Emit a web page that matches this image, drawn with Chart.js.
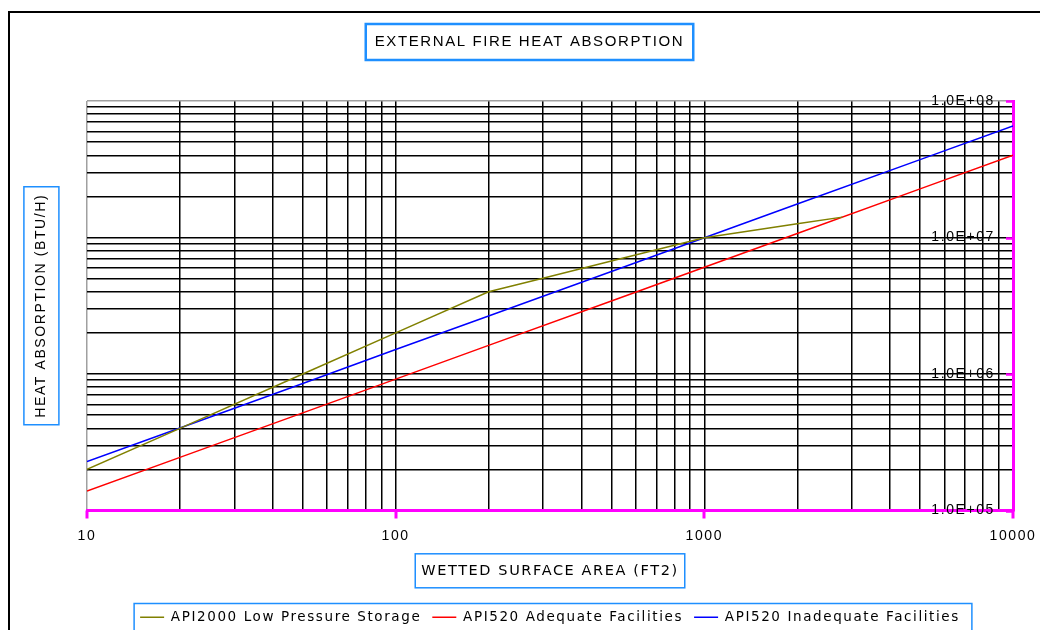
<!DOCTYPE html>
<html><head><meta charset="utf-8">
<script src="https://cdn.jsdelivr.net/npm/chart.js@4/dist/chart.umd.min.js"></script>
<style>
html,body{margin:0;padding:0;background:#fff;}
#wrap{position:relative;width:1040px;height:630px;overflow:hidden;background:#fff;}
#frame{position:absolute;left:7.5px;top:10.5px;width:1100px;height:700px;border-top:2.5px solid #000;border-left:2.5px solid #000;pointer-events:none;}
canvas{position:absolute;left:0;top:0;}
</style></head><body>
<div id="wrap"><canvas id="c" width="1040" height="630"></canvas><div id="frame"></div></div>
<script>
const chartTitle = 'EXTERNAL FIRE HEAT ABSORPTION';
const xAxisTitle = 'WETTED SURFACE AREA (FT2)';
const yAxisTitle = 'HEAT ABSORPTION (BTU/H)';
const seriesNames = ['API2000 Low Pressure Storage', 'API520 Adequate Facilities', 'API520 Inadequate Facilities'];
const seriesColors = ['#808000', '#ff0000', '#0000ff'];

const api2000Area = [10, 20, 50, 100, 200, 300, 500, 1000, 2000, 2800];
const api2000Heat = [2.0e5, 4.0e5, 1.0e6, 2.0e6, 4.0e6, 5.03e6, 6.72e6, 9.94e6, 1.26e7, 1.41e7];

const api520Area = [10, 20, 50, 100, 200, 500, 1000, 2000, 5000, 10000];
const api520AdequateHeat = [1.39e5, 2.45e5, 5.19e5, 9.17e5, 1.62e6, 3.43e6, 6.06e6, 1.07e7, 2.27e7, 4.0e7];
const api520InadequateHeat = [2.28e5, 4.02e5, 8.53e5, 1.51e6, 2.66e6, 5.64e6, 9.95e6, 1.76e7, 3.72e7, 6.57e7];

const xTickValues = [10, 20, 30, 40, 50, 60, 70, 80, 90, 100, 200, 300, 400, 500, 600, 700, 800, 900,
  1000, 2000, 3000, 4000, 5000, 6000, 7000, 8000, 9000, 10000];
const xMajorTicks = [10, 100, 1000, 10000];
const xMajorLabels = ['10', '100', '1000', '10000'];

const yTickValues = [1e5, 2e5, 3e5, 4e5, 5e5, 6e5, 7e5, 8e5, 9e5, 1e6, 2e6, 3e6, 4e6, 5e6, 6e6, 7e6, 8e6, 9e6,
  1e7, 2e7, 3e7, 4e7, 5e7, 6e7, 7e7, 8e7, 9e7, 1e8];
const yMajorTicks = [1e5, 1e6, 1e7, 1e8];
const yMajorLabels = ['1.0E+05', '1.0E+06', '1.0E+07', '1.0E+08'];

const SANS = '"Liberation Sans", Arial, sans-serif';
const VERD = '"DejaVu Sans", Verdana, sans-serif';
const SPACING = '1.6px';
const BLUE_FRAME = '#1e8fff';
const MAGENTA = '#ff00ff';

function pairs(xs, ys) { return xs.map((x, i) => ({x: x, y: ys[i]})); }

const spacingPlugin = {
  id: 'spacing',
  beforeInit(chart) { chart.ctx.letterSpacing = SPACING; },
  beforeUpdate(chart) { chart.ctx.letterSpacing = SPACING; },
  beforeDraw(chart) { chart.ctx.letterSpacing = SPACING; }
};

const framesPlugin = {
  id: 'frames',
  afterDraw(chart) {
    const ctx = chart.ctx;
    ctx.save();
    ctx.letterSpacing = SPACING;
    ctx.strokeStyle = BLUE_FRAME;
    // title frame
    const tb = chart.titleBlock;
    ctx.font = '15px ' + SANS;
    let tw = ctx.measureText(chartTitle).width;
    let cx = (tb.left + tb.right) / 2, cy = tb.top + 33 + 9;
    ctx.lineWidth = 2.5;
    ctx.strokeRect(cx - tw / 2 - 9, cy - 18, tw + 18, 36);
    ctx.lineWidth = 1.5;
    // y title frame
    const yt = chart.scales.yTitle;
    ctx.font = '14px ' + SANS;
    tw = ctx.measureText(yAxisTitle).width;
    cx = yt.left + 14 + 8.4; cy = (yt.top + yt.bottom) / 2;
    ctx.strokeRect(cx - 17.5, cy - tw / 2 - 7, 35, tw + 14);
    // x title frame
    const xs = chart.scales.x;
    ctx.font = '14.5px ' + VERD;
    tw = ctx.measureText(xAxisTitle).width;
    cx = (xs.left + xs.right) / 2; cy = xs.bottom - 20 - 8.7;
    ctx.strokeRect(cx - tw / 2 - 6, cy - 17, tw + 12, 34);
    // legend frame
    const lg = chart.legend;
    const hb = lg.legendHitBoxes;
    if (hb && hb.length) {
      const l = hb[0].left - 6;
      const r = hb[hb.length - 1].left + hb[hb.length - 1].width + 12;
      ctx.strokeRect(l, lg.top + 4, r - l, 60);
    }
    // magenta major tick marks
    ctx.strokeStyle = MAGENTA;
    ctx.lineWidth = 3;
    xMajorTicks.forEach(v => {
      const px = Math.round(xs.getPixelForValue(v));
      ctx.beginPath();
      ctx.moveTo(px, xs.top);
      ctx.lineTo(px, xs.top + 8);
      ctx.stroke();
    });
    const ys = chart.scales.y;
    ctx.lineWidth = 2.5;
    yMajorTicks.forEach(v => {
      const py = Math.round(ys.getPixelForValue(v)) + 0.5;
      ctx.beginPath();
      ctx.moveTo(ys.left - 7, py);
      ctx.lineTo(ys.left, py);
      ctx.stroke();
    });
    ctx.restore();
  }
};

Chart.defaults.color = '#000';

new Chart(document.getElementById('c'), {
  type: 'line',
  data: {
    datasets: [
      {label: seriesNames[0], data: pairs(api2000Area, api2000Heat), borderColor: seriesColors[0], backgroundColor: seriesColors[0], xAxisID: 'x', yAxisID: 'y'},
      {label: seriesNames[1], data: pairs(api520Area, api520AdequateHeat), borderColor: seriesColors[1], backgroundColor: seriesColors[1], xAxisID: 'x', yAxisID: 'y'},
      {label: seriesNames[2], data: pairs(api520Area, api520InadequateHeat), borderColor: seriesColors[2], backgroundColor: seriesColors[2], xAxisID: 'x', yAxisID: 'y'}
    ]
  },
  options: {
    responsive: false,
    animation: false,
    devicePixelRatio: 1,
    events: [],
    elements: {
      line: {borderWidth: 1.5, tension: 0},
      point: {radius: 0}
    },
    layout: {padding: {left: 19, right: 0, top: 0, bottom: -4}},
    plugins: {
      title: {
        display: true, text: chartTitle, color: '#000',
        font: {family: SANS, size: 15, weight: 'normal'},
        padding: {top: 33, bottom: 50}
      },
      legend: {
        display: true, position: 'bottom', fullSize: false,
        labels: {boxWidth: 24, boxHeight: 0, padding: 11, color: '#000', font: {family: VERD, size: 13.5}}
      },
      tooltip: {enabled: false}
    },
    scales: {
      x: {
        type: 'logarithmic', position: 'bottom', min: 10, max: 10000,
        afterBuildTicks: s => { s.ticks = xTickValues.map(v => ({value: v, major: xMajorTicks.includes(v)})); },
        afterFit: s => { s.height = 89; },
        ticks: {
          autoSkip: false, maxRotation: 0, minRotation: 0, padding: 0, color: '#000',
          font: {family: SANS, size: 14},
          callback: v => { const i = xMajorTicks.indexOf(v); return i >= 0 ? xMajorLabels[i] : ''; }
        },
        grid: {
          color: c => (c.tick && c.tick.value === 10) ? '#a0a0a0' : '#000',
          lineWidth: 1.5,
          tickColor: 'rgba(0,0,0,0)',
          tickWidth: 1, tickLength: 17
        },
        border: {display: true, color: MAGENTA, width: 3},
        title: {
          display: true, text: xAxisTitle, color: '#000',
          font: {family: VERD, size: 14.5}, padding: {top: 0, bottom: 20}
        }
      },
      y: {
        type: 'logarithmic', position: 'right', min: 1e5, max: 1e8,
        afterBuildTicks: s => { s.ticks = yTickValues.map(v => ({value: v, major: yMajorTicks.includes(v)})); },
        afterFit: s => { s.width = 27; },
        ticks: {
          autoSkip: false, mirror: true, padding: -18, color: '#000',
          font: {family: SANS, size: 14},
          callback: v => { const i = yMajorTicks.indexOf(v); return i >= 0 ? yMajorLabels[i] : ''; }
        },
        grid: {
          color: c => (c.tick && c.tick.value === 1e8) ? '#a0a0a0' : '#000',
          lineWidth: 1.5, drawTicks: false
        },
        border: {display: true, color: MAGENTA, width: 3}
      },
      yTitle: {
        type: 'linear', position: 'left', display: true,
        afterFit: s => { s.width = 68; },
        grid: {display: false, drawTicks: false},
        border: {display: false},
        ticks: {display: false},
        title: {
          display: true, text: yAxisTitle, color: '#000',
          font: {family: SANS, size: 14}, padding: {top: 14, bottom: 0}
        }
      }
    }
  },
  plugins: [spacingPlugin, framesPlugin]
});
</script>
</body></html>
